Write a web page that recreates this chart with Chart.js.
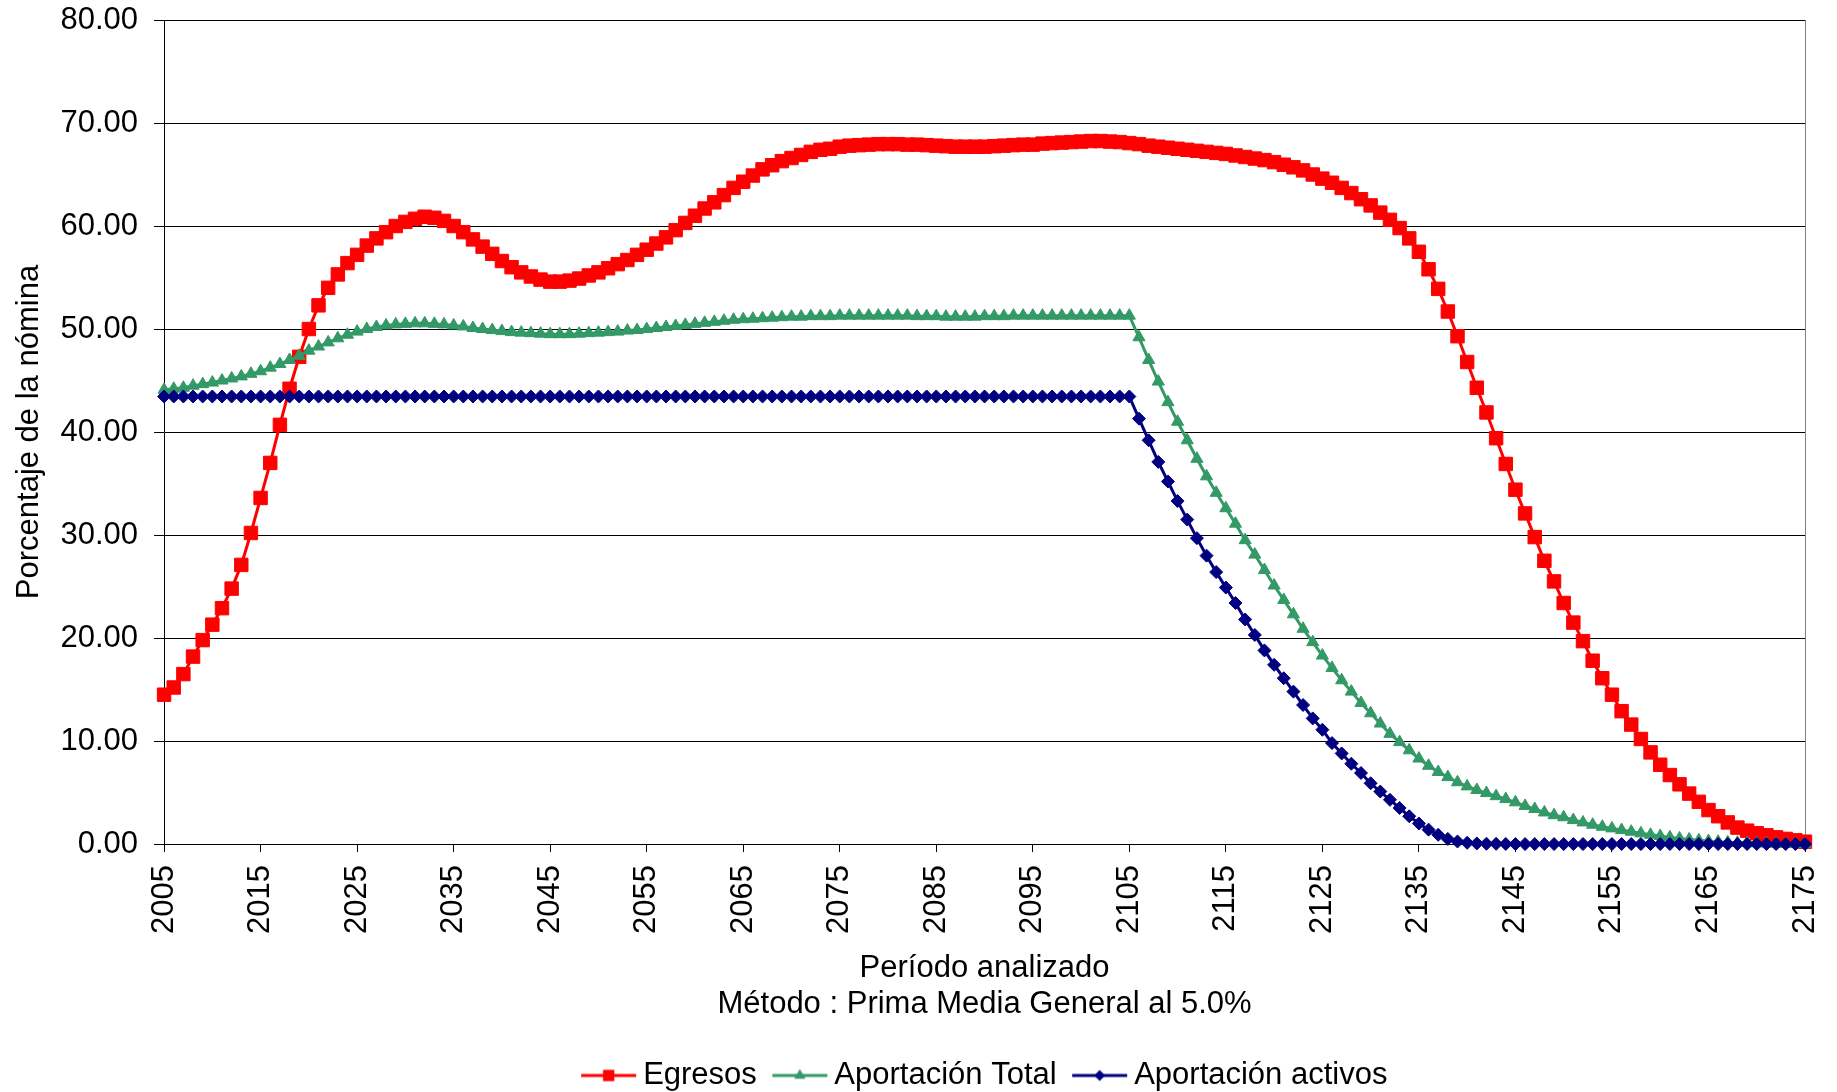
<!DOCTYPE html>
<html><head><meta charset="utf-8">
<script src="https://cdn.jsdelivr.net/npm/chart.js@4.4.1/dist/chart.umd.min.js"></script>
<style>html,body{margin:0;padding:0;overflow:hidden;background:#fff}
#wrap{position:relative;width:1837px;height:1101px}</style></head>
<body><div id="wrap"><canvas id="c"></canvas></div>
<script>
const years = [2005,2006,2007,2008,2009,2010,2011,2012,2013,2014,2015,2016,2017,2018,2019,2020,2021,2022,2023,2024,
2025,2026,2027,2028,2029,2030,2031,2032,2033,2034,2035,2036,2037,2038,2039,2040,2041,2042,2043,2044,
2045,2046,2047,2048,2049,2050,2051,2052,2053,2054,2055,2056,2057,2058,2059,2060,2061,2062,2063,2064,
2065,2066,2067,2068,2069,2070,2071,2072,2073,2074,2075,2076,2077,2078,2079,2080,2081,2082,2083,2084,
2085,2086,2087,2088,2089,2090,2091,2092,2093,2094,2095,2096,2097,2098,2099,2100,2101,2102,2103,2104,
2105,2106,2107,2108,2109,2110,2111,2112,2113,2114,2115,2116,2117,2118,2119,2120,2121,2122,2123,2124,
2125,2126,2127,2128,2129,2130,2131,2132,2133,2134,2135,2136,2137,2138,2139,2140,2141,2142,2143,2144,
2145,2146,2147,2148,2149,2150,2151,2152,2153,2154,2155,2156,2157,2158,2159,2160,2161,2162,2163,2164,
2165,2166,2167,2168,2169,2170,2171,2172,2173,2174,2175];

const xTickYears = [2005,2015,2025,2035,2045,2055,2065,2075,2085,2095,2105,2115,2125,2135,2145,2155,2165,2175];
const yTickValues = [0,10,20,30,40,50,60,70,80];

const egresos = [
14.5,15.2,16.5,18.2,19.8,21.3,22.9,24.8,27.1,30.2,
33.6,37.0,40.7,44.2,47.3,50.0,52.3,54.0,55.3,56.4,
57.2,58.1,58.8,59.4,60.0,60.4,60.7,60.9,60.8,60.5,
60.0,59.4,58.7,58.0,57.3,56.6,56.0,55.5,55.1,54.8,
54.6,54.6,54.7,54.9,55.2,55.5,55.9,56.3,56.7,57.2,
57.7,58.3,58.9,59.6,60.3,61.0,61.7,62.3,63.0,63.7,
64.3,64.9,65.5,65.9,66.3,66.6,66.9,67.2,67.4,67.5,
67.7,67.8,67.85,67.9,67.95,67.95,67.95,67.9,67.9,67.85,
67.8,67.75,67.7,67.7,67.7,67.7,67.75,67.8,67.85,67.9,
67.9,68.0,68.05,68.1,68.15,68.2,68.25,68.25,68.2,68.15,
68.05,67.95,67.8,67.7,67.6,67.5,67.4,67.3,67.2,67.1,
67.0,66.85,66.7,66.55,66.4,66.2,65.95,65.7,65.4,65.0,
64.6,64.2,63.7,63.2,62.6,62.0,61.3,60.6,59.8,58.8,
57.5,55.8,53.9,51.7,49.3,46.8,44.3,41.9,39.4,36.9,
34.4,32.1,29.8,27.5,25.5,23.4,21.5,19.7,17.8,16.1,
14.5,12.9,11.6,10.2,8.9,7.7,6.7,5.8,4.9,4.1,
3.3,2.7,2.1,1.6,1.3,1.05,0.85,0.65,0.5,0.36,
0.23];

const aportacionTotal = [
44.1,44.2,44.3,44.5,44.65,44.8,45.0,45.2,45.4,45.65,
45.9,46.25,46.6,47.0,47.4,47.9,48.3,48.7,49.1,49.45,
49.75,50.0,50.2,50.35,50.45,50.5,50.55,50.55,50.5,50.45,
50.35,50.25,50.1,50.0,49.9,49.8,49.7,49.65,49.6,49.55,
49.5,49.5,49.5,49.55,49.6,49.65,49.7,49.75,49.85,49.9,
50.0,50.1,50.2,50.3,50.4,50.5,50.6,50.7,50.8,50.9,
50.95,51.0,51.05,51.1,51.15,51.2,51.2,51.25,51.25,51.25,
51.3,51.3,51.3,51.3,51.3,51.3,51.3,51.3,51.25,51.25,
51.25,51.2,51.2,51.2,51.2,51.25,51.25,51.25,51.3,51.3,
51.3,51.3,51.3,51.3,51.3,51.3,51.3,51.3,51.3,51.3,
51.3,49.2,47.0,44.9,42.9,41.0,39.2,37.4,35.7,34.1,
32.6,31.1,29.5,28.1,26.6,25.1,23.7,22.3,20.9,19.6,
18.3,17.1,15.9,14.8,13.7,12.7,11.7,10.7,9.9,9.1,
8.3,7.6,7.0,6.5,6.0,5.6,5.25,4.95,4.65,4.37,
4.05,3.7,3.4,3.07,2.8,2.6,2.33,2.1,1.88,1.68,
1.52,1.36,1.2,1.04,0.9,0.78,0.65,0.55,0.45,0.36,
0.29,0.23,0.17,0.13,0.1,0.08,0.06,0.04,0.03,0.02,
0.01];

const aportacionActivos = [
43.45,43.45,43.45,43.45,43.45,43.45,43.45,43.45,43.45,43.45,
43.45,43.45,43.45,43.45,43.45,43.45,43.45,43.45,43.45,43.45,
43.45,43.45,43.45,43.45,43.45,43.45,43.45,43.45,43.45,43.45,
43.45,43.45,43.45,43.45,43.45,43.45,43.45,43.45,43.45,43.45,
43.45,43.45,43.45,43.45,43.45,43.45,43.45,43.45,43.45,43.45,
43.45,43.45,43.45,43.45,43.45,43.45,43.45,43.45,43.45,43.45,
43.45,43.45,43.45,43.45,43.45,43.45,43.45,43.45,43.45,43.45,
43.45,43.45,43.45,43.45,43.45,43.45,43.45,43.45,43.45,43.45,
43.45,43.45,43.45,43.45,43.45,43.45,43.45,43.45,43.45,43.45,
43.45,43.45,43.45,43.45,43.45,43.45,43.45,43.45,43.45,43.45,
43.45,41.3,39.2,37.1,35.2,33.3,31.5,29.7,28.0,26.4,
24.9,23.4,21.8,20.3,18.8,17.4,16.1,14.8,13.5,12.2,
11.1,9.8,8.8,7.8,6.9,5.9,5.1,4.3,3.5,2.7,
2.0,1.4,0.9,0.5,0.25,0.12,0.06,0.03,0.02,0.01,
0,0,0,0,0,0,0,0,0,0,
0,0,0,0,0,0,0,0,0,0,
0,0,0,0,0,0,0,0,0,0,
0];

const seriesNames = ['Egresos', 'Aportación Total', 'Aportación activos'];
const seriesColors = ['#FF0000', '#339966', '#000080'];
const xTitle = ['Período analizado', 'Método : Prima Media General al 5.0%'];
const yTitle = 'Porcentaje de la nómina';

const FONT = "'Liberation Sans', Arial, Helvetica, sans-serif";

function drawMarker(g, style, r, x, y) {
  g.beginPath();
  if (style === 'rect') {
    const s = r * Math.SQRT1_2;
    g.rect(x - s, y - s, 2 * s, 2 * s);
  } else if (style === 'triangle') {
    let a = 0;
    g.moveTo(x + Math.sin(a) * r, y - Math.cos(a) * r);
    a += 2 * Math.PI / 3;
    g.lineTo(x + Math.sin(a) * r, y - Math.cos(a) * r);
    a += 2 * Math.PI / 3;
    g.lineTo(x + Math.sin(a) * r, y - Math.cos(a) * r);
    g.closePath();
  } else {
    g.moveTo(x - r, y); g.lineTo(x, y - r); g.lineTo(x + r, y); g.lineTo(x, y + r); g.closePath();
  }
  g.fill();
}
function legendIcon(color, style, r) {
  const c = document.createElement('canvas');
  c.width = 65; c.height = 24;
  const g = c.getContext('2d');
  g.strokeStyle = color; g.fillStyle = color; g.lineWidth = 3;
  g.beginPath(); g.moveTo(9, 12); g.lineTo(64, 12); g.stroke();
  drawMarker(g, style, r, 36.5, 12);
  return c;
}
const pointStyles = ['rect', 'triangle', 'rectRot'];
const pointRadii = [9.5, 7, 6.5];
const legendRadii = [8, 6.5, 5.5];
const legendIcons = seriesColors.map((col, i) => legendIcon(col, pointStyles[i], legendRadii[i]));

const frame = {
  id: 'frame',
  beforeDatasetsDraw(chart) {
    const {ctx, chartArea: a} = chart;
    ctx.save();
    ctx.strokeStyle = '#808080';
    ctx.lineWidth = 1;
    const xr = Math.round(a.right) + 0.5;
    ctx.beginPath(); ctx.moveTo(xr, a.top); ctx.lineTo(xr, a.bottom); ctx.stroke();
    ctx.restore();
  }
};

const seriesData = [egresos, aportacionTotal, aportacionActivos];
const datasets = seriesData.map((d, i) => ({
  label: seriesNames[i],
  data: d,
  borderColor: seriesColors[i],
  backgroundColor: seriesColors[i],
  pointBackgroundColor: seriesColors[i],
  pointBorderColor: seriesColors[i],
  borderWidth: 3,
  pointStyle: pointStyles[i],
  pointRadius: pointRadii[i],
  pointBorderWidth: 1,
  pointHoverRadius: pointRadii[i],
  tension: 0,
  fill: false,
  clip: false,
  order: 3 - i
}));

new Chart(document.getElementById('c'), {
  type: 'line',
  data: { labels: years, datasets },
  plugins: [frame],
  options: {
    responsive: true,
    maintainAspectRatio: false,
    animation: false,
    events: [],
    layout: { padding: { top: 20, right: 32, bottom: 0, left: 0 } },
    plugins: {
      tooltip: { enabled: false },
      legend: {
        position: 'bottom',
        fullSize: false,
        labels: {
          usePointStyle: true,
          pointStyleWidth: 46,
          padding: 16,
          color: '#000',
          font: { family: FONT, size: 31 },
          generateLabels(chart) {
            return chart.data.datasets.map((ds, i) => ({
              text: ds.label, datasetIndex: i, pointStyle: legendIcons[i],
              fillStyle: ds.borderColor, strokeStyle: ds.borderColor, lineWidth: 0, hidden: false
            }));
          }
        }
      }
    },
    scales: {
      x: {
        type: 'linear',
        min: years[0],
        max: years[years.length - 1],
        afterBuildTicks: s => { s.ticks = xTickYears.map(v => ({ value: v })); },
        grid: { drawOnChartArea: false, drawTicks: true, tickLength: 8, color: '#000', lineWidth: 1 },
        border: { display: true, color: '#000', width: 1 },
        ticks: {
          autoSkip: false, minRotation: 90, maxRotation: 90, padding: 13, color: '#000',
          font: { family: FONT, size: 31, lineHeight: 0.5 },
          callback: v => String(v)
        },
        title: {
          display: true, text: xTitle, color: '#000',
          font: { family: FONT, size: 31, lineHeight: 1.177 },
          padding: { top: 3, bottom: 21 }
        }
      },
      y: {
        min: 0, max: 80,
        afterBuildTicks: s => { s.ticks = yTickValues.map(v => ({ value: v })); },
        grid: { drawOnChartArea: true, drawTicks: true, tickLength: 10, color: '#000', lineWidth: 1 },
        border: { display: true, color: '#000', width: 1 },
        ticks: {
          padding: 16, color: '#000',
          font: { family: FONT, size: 31, lineHeight: 0.2 },
          callback: v => Number(v).toFixed(2)
        },
        title: {
          display: true, text: yTitle, color: '#000',
          font: { family: FONT, size: 31, lineHeight: 1.0 },
          padding: { top: 13.5, bottom: 0 }
        }
      }
    }
  }
});
</script></body></html>
